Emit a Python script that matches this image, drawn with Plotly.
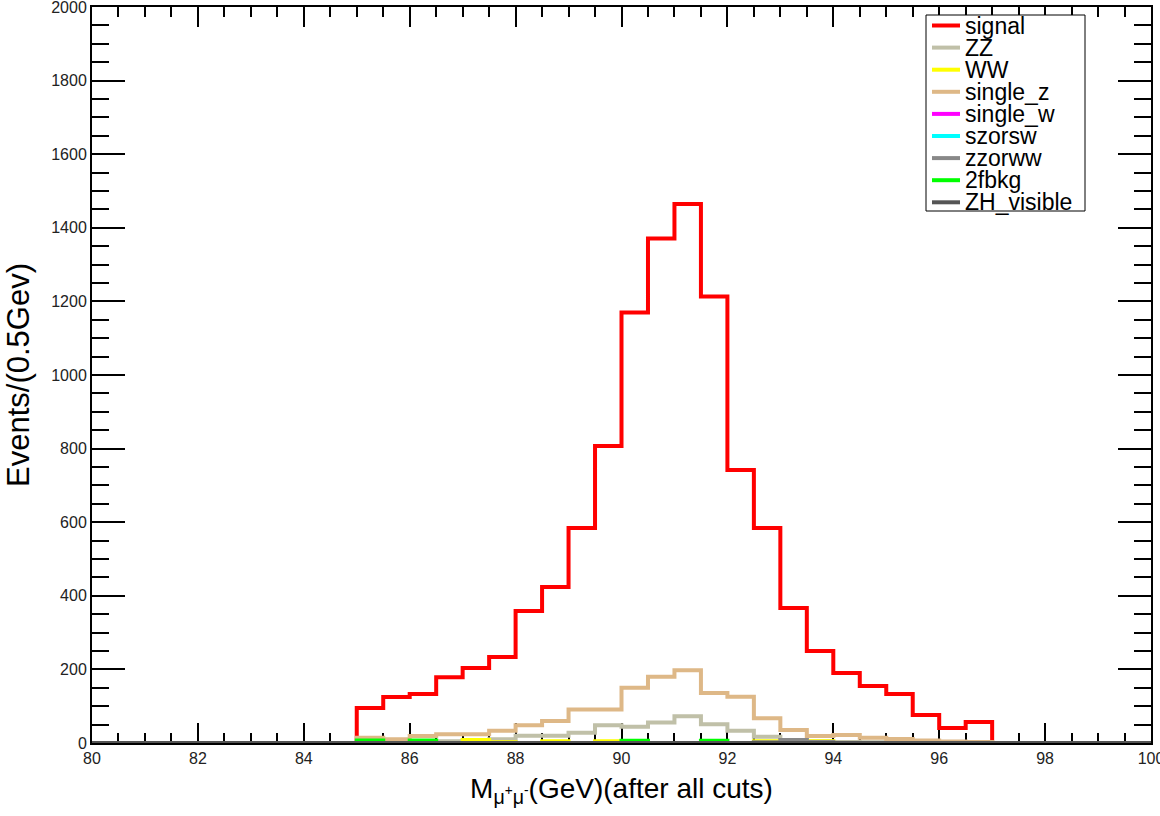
import numpy as np
import plotly.graph_objects as go

# ---------------- data (bin contents, 0.5 GeV bins from 80 to 100) ----------------
bin_low = 80.0
bin_high = 100.0
bin_width = 0.5

signal = [0, 0, 0, 0, 0, 0, 0, 0, 0, 0,
          95, 125, 133, 179, 204, 234, 359, 424, 584, 807, 1170, 1371,
          1465, 1213, 742, 584, 367, 250, 190, 155, 133, 76, 41, 57,
          0, 0, 0, 0, 0, 0]
zz = [0, 0, 0, 0, 0, 0, 0, 0, 0, 0,
      3, 3, 4, 5, 6, 10, 20, 20, 28, 48, 44, 56,
      73, 51, 33, 17, 8, 4, 3, 2, 1, 1, 0, 0,
      0, 0, 0, 0, 0, 0]
ww = [0, 0, 0, 0, 0, 0, 0, 0, 0, 0,
      0, 0, 0, 0, 8, 2, 0, 5, 0, 5, 0, 0,
      0, 0, 0, 5, 0, 5, 0, 0, 0, 0, 0, 0,
      0, 0, 0, 0, 0, 0]
single_z = [0, 0, 0, 0, 0, 0, 0, 0, 0, 0,
            14, 10, 19, 24, 24, 33, 48, 60, 91, 91, 150, 180,
            198, 136, 126, 67, 35, 19, 22, 14, 11, 7, 4, 3,
            0, 0, 0, 0, 0, 0]
single_w = [0] * 40
szorsw = [0] * 40
zzorww = [0, 0, 0, 0, 0, 0, 0, 0, 0, 0,
          0, 0, 0, 0, 0, 0, 0, 0, 0, 0, 0, 0,
          0, 0, 0, 2, 8, 3, 0, 0, 0, 0, 0, 0,
          0, 0, 0, 0, 0, 0]
bkg_2f = [0, 0, 0, 0, 0, 0, 0, 0, 0, 0,
          7, 0, 7, 0, 0, 0, 0, 0, 0, 0, 6, 0,
          0, 6, 0, 0, 0, 0, 0, 0, 0, 0, 0, 0,
          0, 0, 0, 0, 0, 0]
zh_visible = [0] * 40

series_names = ["signal", "ZZ", "WW", "single_z", "single_w",
                "szorsw", "zzorww", "2fbkg", "ZH_visible"]
series_values = [signal, zz, ww, single_z, single_w,
                 szorsw, zzorww, bkg_2f, zh_visible]
series_colors = ["#ff0000", "#c0c0a8", "#ffff00", "#deb887", "#ff00ff",
                 "#00ffff", "#888888", "#00ff00", "#555555"]

x_ticks = [80, 82, 84, 86, 88, 90, 92, 94, 96, 98, 100]
y_ticks = [0, 200, 400, 600, 800, 1000, 1200, 1400, 1600, 1800, 2000]

# ---------------- figure ----------------
edges = np.arange(bin_low, bin_high + bin_width / 2, bin_width)

fig = go.Figure()
for name, vals, col in zip(series_names, series_values, series_colors):
    xs = [edges[0]] + list(edges[:-1]) + [edges[-1]]
    ys = [0] + list(vals) + [0]
    fig.add_trace(go.Scatter(
        x=xs, y=ys, mode="lines", name=name,
        line=dict(color=col, width=4, shape="hv"),
        showlegend=False, hoverinfo="skip"))

# ROOT-like legend box (entries generated from the series lists)
W, H = 1059.0, 736.0
def px2paper(px, py):
    return (px - 92.0) / W, (743.0 - py) / H

bx0, by0 = px2paper(926, 211)
bx1, by1 = px2paper(1085, 15)
shapes = [dict(type="rect", xref="paper", yref="paper", x0=bx0, y0=by0, x1=bx1, y1=by1,
               line=dict(color="black", width=1), fillcolor="white", layer="above")]
annotations = []
for i, (name, col) in enumerate(zip(series_names, series_colors)):
    py = 25.5 + i * 22.1
    lx0, ly = px2paper(932, py)
    lx1, _ = px2paper(960, py)
    tx, _ = px2paper(963, py)
    shapes.append(dict(type="line", xref="paper", yref="paper", x0=lx0, x1=lx1, y0=ly, y1=ly,
                       line=dict(color=col, width=4), layer="above"))
    annotations.append(dict(xref="paper", yref="paper", x=tx, y=ly, text=name,
                            showarrow=False, xanchor="left", yanchor="middle",
                            font=dict(family="Liberation Sans, Arial", size=23, color="black")))

tickfont = dict(family="Liberation Sans, Arial", size=16, color="#222")

fig.update_layout(
    width=1160, height=816,
    margin=dict(l=92, r=9, t=7, b=73, autoexpand=False),
    paper_bgcolor="white", plot_bgcolor="white",
    shapes=shapes, annotations=annotations,
    xaxis=dict(
        range=[bin_low, bin_high], tickvals=x_ticks, ticktext=[str(v) for v in x_ticks],
        ticks="inside", ticklen=20, tickwidth=2, tickcolor="black",
        minor=dict(dtick=bin_width, ticks="inside", ticklen=10, tickwidth=2, tickcolor="black"),
        showline=True, linecolor="black", linewidth=2, mirror="ticks",
        showgrid=False, zeroline=False, layer="below traces",
        tickfont=tickfont, ticklabeloverflow="allow", automargin=False,
        title=dict(text="M<sub>μ<sup>+</sup>μ<sup>-</sup></sub>(GeV)(after all cuts)",
                   font=dict(family="Liberation Sans, Arial", size=28, color="black"),
                   standoff=12),
    ),
    yaxis=dict(
        range=[0, 2000], tickvals=y_ticks, ticktext=[str(v) for v in y_ticks],
        ticks="inside", ticklen=33, tickwidth=2, tickcolor="black",
        minor=dict(dtick=50, ticks="inside", ticklen=17, tickwidth=2, tickcolor="black"),
        showline=True, linecolor="black", linewidth=2, mirror="ticks",
        showgrid=False, zeroline=False, layer="below traces",
        tickfont=tickfont, ticklabeloverflow="allow", automargin=False,
        title=dict(text="Events/(0.5Gev)",
                   font=dict(family="Liberation Sans, Arial", size=31, color="black"),
                   standoff=12),
    ),
)

fig.write_html("out.html")
